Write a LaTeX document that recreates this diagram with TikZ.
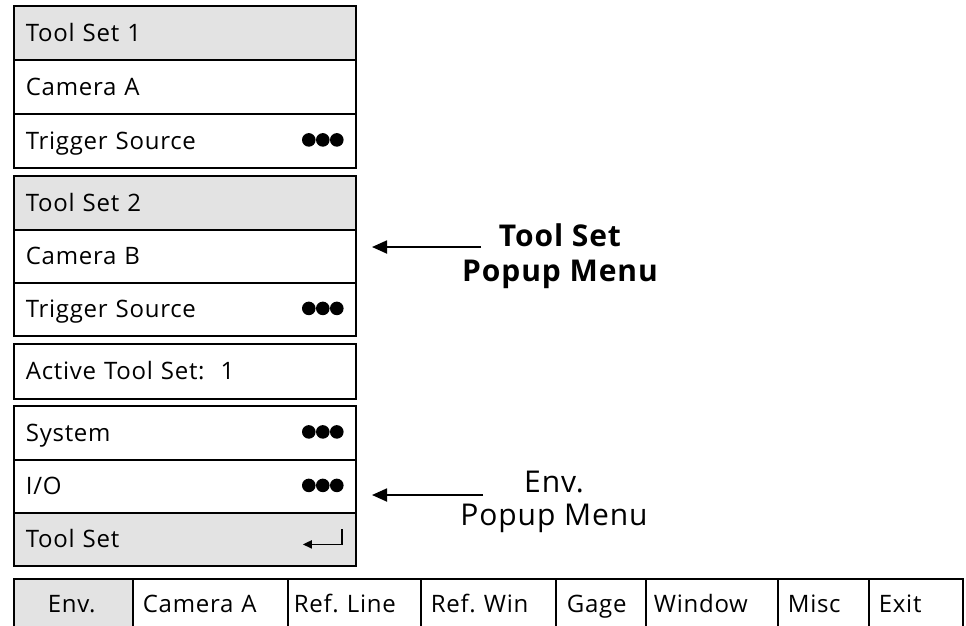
\documentclass[tikz,border=0pt]{standalone}
\usepackage{fontspec}
\setmainfont{Open Sans}[LetterSpace=3]
\usetikzlibrary{arrows.meta}
\begin{document}
\begin{tikzpicture}[x=1pt,y=-1pt,
  txt/.style={font=\fontsize{24}{28}\selectfont, text height=19pt, text depth=2pt},
  row/.style={draw, line width=1.8pt, anchor=north west, inner ysep=0pt, inner xsep=12pt,
     text width=318pt, align=left, minimum height=#1, txt},
  row/.default=54pt,
  shaded/.style={fill=gray!22},
  barcell/.style 2 args={draw, line width=1.8pt, anchor=north west, inner ysep=0pt,
     minimum height=50pt, minimum width=#1, text width=#1-2*#2, inner xsep=#2, align=left, txt},
  pointer/.style={line width=1.8pt, -{Triangle[length=15pt,width=13pt]}},
  lbl/.style={align=center}
]
\useasboundingbox (0,0) rectangle (966,625);

% group 1
\node[row, shaded] (ts1) at (13,5) {Tool Set 1};
\node[row] (cama) at (13,59) {Camera A};
\node[row] (trig1) at (13,113) {Trigger Source};
% group 2
\node[row, shaded] (ts2) at (13,175) {Tool Set 2};
\node[row=53pt] (camb) at (13,229) {Camera B};
\node[row=53pt] (trig2) at (13,282) {Trigger Source};
% active
\node[row=55pt] (active) at (13,343) {Active Tool Set:\ \ 1};
% group 3
\node[row] (sys) at (13,405) {System};
\node[row=53pt] (io) at (13,459) {I/O};
\node[row=53pt, shaded] (tsr) at (13,512) {Tool Set};

% dots
\foreach \n in {trig1,trig2,sys,io}{
  \foreach \dx in {-48,-34,-20}{
    \fill ([xshift=\dx pt, yshift=1pt]\n.east) circle (6.8pt);
  }
}
% return glyph
\draw[line width=1.8pt, -{Triangle[length=9pt,width=8pt]}]
  ([xshift=-15pt,yshift=10pt]tsr.east) -- ([xshift=-15pt,yshift=-5pt]tsr.east) -- ([xshift=-54pt,yshift=-5pt]tsr.east);

% bottom bar
\node[barcell={119pt}{34pt}, shaded] (b1) at (13,578) {Env.};
\node[barcell={155pt}{10pt}] (b2) at (132,578) {Camera A};
\node[barcell={133pt}{6pt}] (b3) at (287,578) {Ref.~Line};
\node[barcell={135pt}{10pt}] (b4) at (420,578) {Ref.~Win};
\node[barcell={90pt}{11pt}] (b5) at (555,578) {Gage};
\node[barcell={132pt}{8pt}] (b6) at (645,578) {Window};
\node[barcell={91pt}{10pt}] (b7) at (777,578) {Misc};
\node[barcell={94pt}{10pt}] (b8) at (868,578) {Exit};

% labels
\node[lbl, font=\fontsize{30}{35}\selectfont\bfseries, anchor=north] (lab1) at (560,220) {Tool Set\\Popup Menu};
\node[lbl, font=\fontsize{30}{33}\selectfont, anchor=north] (lab2) at (554,468) {Env.\\Popup Menu};

\coordinate (s1) at (481,247);
\coordinate (t1) at (372,247);
\coordinate (s2) at (483,495);
\coordinate (t2) at (372,495);
\draw[pointer] (s1) -- (t1);
\draw[pointer] (s2) -- (t2);
\end{tikzpicture}
\end{document}
